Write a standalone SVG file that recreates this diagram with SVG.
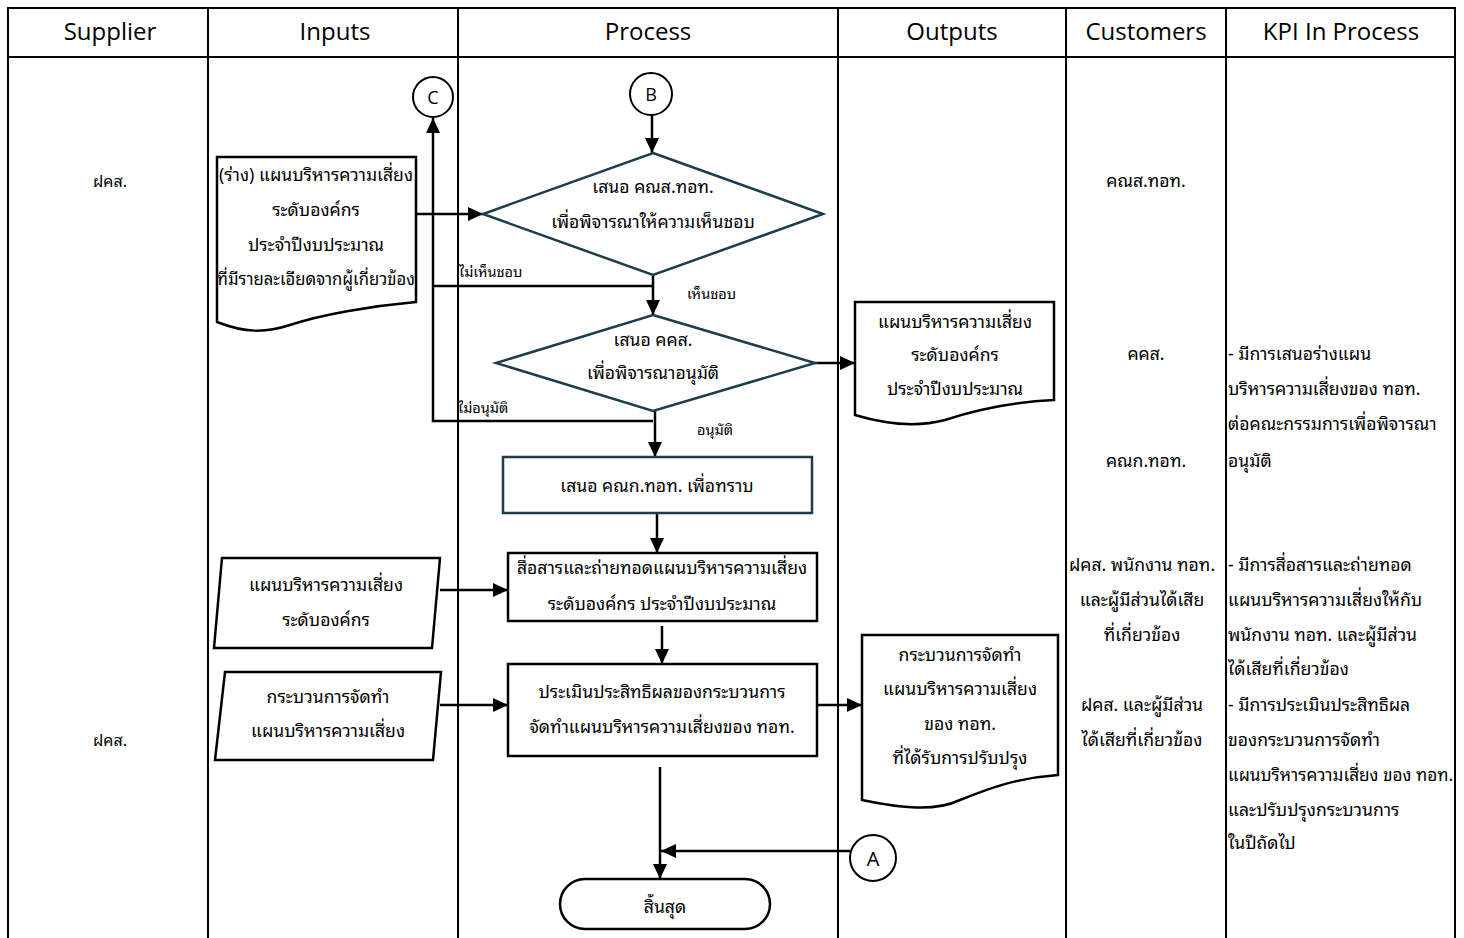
<svg xmlns="http://www.w3.org/2000/svg" width="1464" height="938" viewBox="0 0 1464 938">
<defs>
<marker id="ah" markerUnits="userSpaceOnUse" markerWidth="16" markerHeight="14" refX="15" refY="7" orient="auto">
<path d="M0,0 L15,7 L0,14 z" fill="#000"/>
</marker>
<style>
.grid{stroke:#000;stroke-width:2;fill:none}
.hd{font-family:'Open Sans','Noto Sans',sans-serif;font-size:24px;fill:#000;text-anchor:middle}
.t{font-family:'Noto Sans Thai Looped','Leelawadee UI','Tahoma','Loma','Garuda','Noto Sans Thai','Noto Sans Thai UI','DejaVu Sans',sans-serif;font-size:17.6px;fill:#000;text-anchor:middle}
.s{font-family:'Noto Sans Thai Looped','Leelawadee UI','Tahoma','Loma','Garuda','Noto Sans Thai','Noto Sans Thai UI','DejaVu Sans',sans-serif;font-size:14.5px;fill:#000}
.l{text-anchor:start}
.blk{fill:#fff;stroke:#000;stroke-width:2.5}
.teal{fill:#fff;stroke:#1b3e4f;stroke-width:2.5}
.cn{stroke:#000;stroke-width:2.5;fill:none}
.cna{stroke:#000;stroke-width:2.5;fill:none;marker-end:url(#ah)}
.lt{font-family:'Open Sans',sans-serif;font-size:18px;fill:#000;text-anchor:middle}
</style>
</defs>
<g id="table">
<path class="grid" d="M8,938 V8 H1455 V938 M8,57 H1455 M208,8 V938 M458,8 V938 M838,8 V938 M1066,8 V938 M1226,8 V938"/>
<text class="hd" x="110" y="40">Supplier</text>
<text class="hd" x="335" y="40">Inputs</text>
<text class="hd" x="648" y="40">Process</text>
<text class="hd" x="952" y="40">Outputs</text>
<text class="hd" x="1146" y="40">Customers</text>
<text class="hd" x="1341" y="40">KPI In Process</text>
</g>
<g id="supplier">
<text class="t" x="110" y="187" style="font-size:16px">ฝคส.</text>
<text class="t" x="110" y="746" style="font-size:16px">ฝคส.</text>
</g>
<g id="connectors">
<path class="cna" d="M652,115 V153"/>
<path class="cna" d="M416,214 H483"/>
<path class="cna" d="M653,275 V315"/>
<path class="cn" d="M653,286 H433"/>
<path class="cna" d="M653,421 H433 V118"/>
<path class="cna" d="M655,411 V457"/>
<path class="cna" d="M815,363 H855"/>
<path class="cna" d="M657,513 V553"/>
<path class="cna" d="M440,590 H508"/>
<path class="cna" d="M662,626 V664"/>
<path class="cna" d="M440,705 H508"/>
<path class="cna" d="M817,705 H862"/>
<path class="cna" d="M660,767 V879"/>
<path class="cna" d="M850,851 H661"/>
<text class="s l" x="459" y="277">ไม่เห็นชอบ</text>
<text class="s l" x="687" y="299">เห็นชอบ</text>
<text class="s l" x="458" y="413">ไม่อนุมัติ</text>
<text class="s l" x="697" y="435">อนุมัติ</text>
</g>
<g id="conC">
<circle class="blk" cx="433" cy="97" r="20" style="stroke-width:2"/>
<text class="lt" x="433" y="104">C</text>
</g>
<g id="conB">
<circle class="blk" cx="651" cy="94" r="21" style="stroke-width:2"/>
<text class="lt" x="651" y="101">B</text>
</g>
<g id="conA">
<circle class="blk" cx="873" cy="858" r="23" style="stroke-width:2"/>
<text class="lt" x="873" y="866" style="font-size:20px">A</text>
</g>
<g id="doc1">
<path class="blk" d="M217,157 H416 V302 C370,306 320,315 290,325 C265,333 245,333 217,322 Z"/>
<text class="t" x="316" y="181">(ร่าง) แผนบริหารความเสี่ยง</text>
<text class="t" x="316" y="216">ระดับองค์กร</text>
<text class="t" x="316" y="251">ประจำปีงบประมาณ</text>
<text class="t" x="316" y="285" style="font-size:16.7px">ที่มีรายละเอียดจากผู้เกี่ยวข้อง</text>
</g>
<g id="dec1">
<path class="teal" d="M653,153 L823,214 L653,275 L483,214 Z"/>
<text class="t" x="653" y="193">เสนอ คณส.ทอท.</text>
<text class="t" x="653" y="228">เพื่อพิจารณาให้ความเห็นชอบ</text>
</g>
<g id="dec2">
<path class="teal" d="M653,315 L815,363 L653,411 L496,363 Z"/>
<text class="t" x="653" y="346">เสนอ คคส.</text>
<text class="t" x="653" y="379">เพื่อพิจารณาอนุมัติ</text>
</g>
<g id="doc2">
<path class="blk" d="M855,302 H1054 V400 C1010,402 975,410 945,420 C915,428 885,424 855,415 Z"/>
<text class="t" x="955" y="328">แผนบริหารความเสี่ยง</text>
<text class="t" x="955" y="361">ระดับองค์กร</text>
<text class="t" x="955" y="395">ประจำปีงบประมาณ</text>
</g>
<g id="proc3">
<rect class="teal" x="503" y="457" width="309" height="56"/>
<text class="t" x="657" y="492">เสนอ คณก.ทอท. เพื่อทราบ</text>
</g>
<g id="in2">
<path class="blk" d="M222,558 H440 L432,648 H214 Z"/>
<text class="t" x="326" y="591">แผนบริหารความเสี่ยง</text>
<text class="t" x="326" y="626">ระดับองค์กร</text>
</g>
<g id="proc4">
<rect class="blk" x="508" y="553" width="309" height="68"/>
<text class="t" x="662" y="574">สื่อสารและถ่ายทอดแผนบริหารความเสี่ยง</text>
<text class="t" x="662" y="610">ระดับองค์กร ประจำปีงบประมาณ</text>
</g>
<g id="in3">
<path class="blk" d="M225,672 H441 L433,760 H215 Z"/>
<text class="t" x="328" y="703">กระบวนการจัดทำ</text>
<text class="t" x="328" y="737">แผนบริหารความเสี่ยง</text>
</g>
<g id="proc5">
<rect class="blk" x="508" y="664" width="309" height="92"/>
<text class="t" x="662" y="698">ประเมินประสิทธิผลของกระบวนการ</text>
<text class="t" x="662" y="733">จัดทำแผนบริหารความเสี่ยงของ ทอท.</text>
</g>
<g id="doc3">
<path class="blk" d="M862,635 H1058 V775 C1015,778 985,790 960,800 C935,812 900,808 862,800 Z"/>
<text class="t" x="960" y="661">กระบวนการจัดทำ</text>
<text class="t" x="960" y="695">แผนบริหารความเสี่ยง</text>
<text class="t" x="960" y="730">ของ ทอท.</text>
<text class="t" x="960" y="764">ที่ได้รับการปรับปรุง</text>
</g>
<g id="end">
<rect class="blk" x="560" y="879" width="210" height="50" rx="25"/>
<text class="t" x="665" y="913">สิ้นสุด</text>
</g>
<g id="customers">
<text class="t" x="1146" y="187">คณส.ทอท.</text>
<text class="t" x="1146" y="360">คคส.</text>
<text class="t" x="1146" y="467">คณก.ทอท.</text>
<text class="t" x="1142" y="571">ฝคส. พนักงาน ทอท.</text>
<text class="t" x="1142" y="606">และผู้มีส่วนได้เสีย</text>
<text class="t" x="1142" y="641">ที่เกี่ยวข้อง</text>
<text class="t" x="1142" y="711">ฝคส. และผู้มีส่วน</text>
<text class="t" x="1142" y="746">ได้เสียที่เกี่ยวข้อง</text>
</g>
<g id="kpi">
<text class="t l" x="1228" y="360">- มีการเสนอร่างแผน</text>
<text class="t l" x="1228" y="395">บริหารความเสี่ยงของ ทอท.</text>
<text class="t l" x="1228" y="430">ต่อคณะกรรมการเพื่อพิจารณา</text>
<text class="t l" x="1228" y="467">อนุมัติ</text>
<text class="t l" x="1228" y="571">- มีการสื่อสารและถ่ายทอด</text>
<text class="t l" x="1228" y="606">แผนบริหารความเสี่ยงให้กับ</text>
<text class="t l" x="1228" y="641">พนักงาน ทอท. และผู้มีส่วน</text>
<text class="t l" x="1228" y="675">ได้เสียที่เกี่ยวข้อง</text>
<text class="t l" x="1228" y="711">- มีการประเมินประสิทธิผล</text>
<text class="t l" x="1228" y="746">ของกระบวนการจัดทำ</text>
<text class="t l" x="1228" y="781" style="font-size:17.2px">แผนบริหารความเสี่ยง ของ ทอท.</text>
<text class="t l" x="1228" y="816">และปรับปรุงกระบวนการ</text>
<text class="t l" x="1228" y="849">ในปีถัดไป</text>
</g>
</svg>
